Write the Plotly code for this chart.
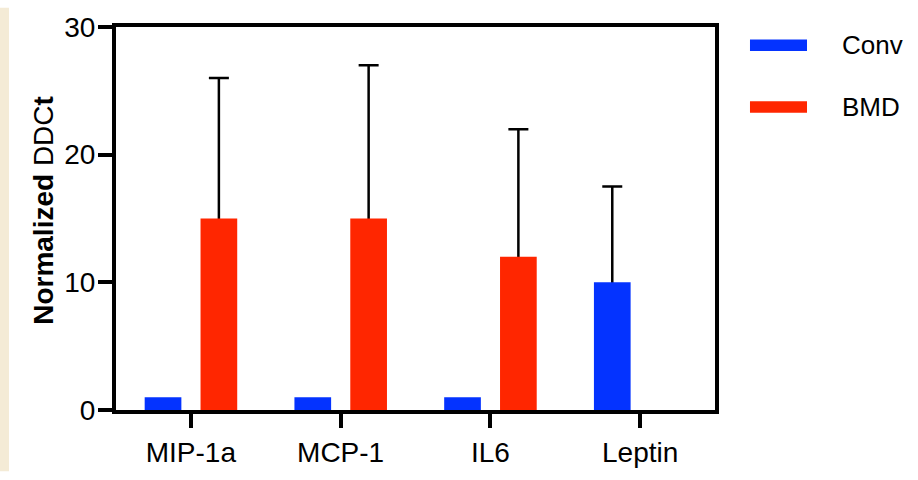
import plotly.graph_objects as go

categories = ["MIP-1a", "MCP-1", "IL6", "Leptin"]
conv_values = [1, 1, 1, 10]
bmd_values = [15, 15, 12, 0]
conv_err = [None, None, None, 7.5]
bmd_err = [11, 12, 10, None]
series_names = ["Conv", "BMD"]
y_ticks = [0, 10, 20, 30]

BLUE = "#0433FF"
RED = "#FF2600"
FONT = "Liberation Sans, Arial, sans-serif"
BAR_W = 0.245
OFFSETS = [-0.186 - BAR_W / 2, 0.187 - BAR_W / 2]

fig = go.Figure()
for name, vals, errs, col, off in [
    (series_names[0], conv_values, conv_err, BLUE, OFFSETS[0]),
    (series_names[1], bmd_values, bmd_err, RED, OFFSETS[1]),
]:
    # error bars (upper SD only) drawn first so the bar hides the lower stem
    ev = [v if e is not None else None for v, e in zip(vals, errs)]
    fig.add_trace(go.Bar(x=categories, y=ev, name=name, marker_color="rgba(0,0,0,0)",
                         marker_line_width=0, width=BAR_W, offset=off, showlegend=False,
                         hoverinfo="skip",
                         error_y=dict(type="data", symmetric=False, array=errs,
                                      arrayminus=[v if e is not None else None
                                                  for v, e in zip(vals, errs)],
                                      color="black", thickness=2.5, width=10)))
    fig.add_trace(go.Bar(x=categories, y=vals, name=name, marker_color=col,
                         marker_line_width=0, width=BAR_W, offset=off, showlegend=False))

fig.update_layout(
    width=918, height=480,
    margin=dict(l=116, r=203, t=18, b=62),
    paper_bgcolor="white", plot_bgcolor="white",
    barmode="overlay",
    font=dict(family=FONT, color="black", size=28),
    showlegend=False,
)
fig.update_xaxes(
    type="category", range=[-0.5, 3.5],
    showline=True, linecolor="black", linewidth=4, mirror=True,
    ticks="outside", ticklen=14, tickwidth=4, tickcolor="black",
    showgrid=False, zeroline=False, tickfont=dict(size=28), layer="above traces",
)
fig.update_yaxes(
    range=[0, 30], tickvals=y_ticks,
    showline=True, linecolor="black", linewidth=4, mirror=True,
    ticks="outside", ticklen=14, tickwidth=4, tickcolor="black",
    showgrid=False, zeroline=False, tickfont=dict(size=28),
    ticklabelstandoff=-3, layer="above traces",
)

# y-axis title
fig.add_annotation(xref="paper", yref="paper", x=-0.1202, y=0.52,
                   text="<b>Normalized</b> DDC<b>t</b>", textangle=-90,
                   showarrow=False, xanchor="center", yanchor="middle",
                   font=dict(size=28))

# beige left strip
fig.add_shape(type="rect", xref="paper", yref="paper", x0=-0.1937, x1=-0.1786,
              y0=-0.16, y1=1.05, fillcolor="#F4EBD6", line_width=0, layer="below")

# custom legend
leg = [(series_names[0], BLUE, 0.9525), (series_names[1], RED, 0.7913)]
for name, col, yc in leg:
    fig.add_shape(type="rect", xref="paper", yref="paper", x0=1.0584, x1=1.1536,
                  y0=yc - 0.015, y1=yc + 0.015, fillcolor=col, line_width=0)
    fig.add_annotation(xref="paper", yref="paper", x=1.2087, y=yc, text=name,
                       showarrow=False, xanchor="left", yanchor="middle",
                       font=dict(size=26))

fig.write_html("out.html")
